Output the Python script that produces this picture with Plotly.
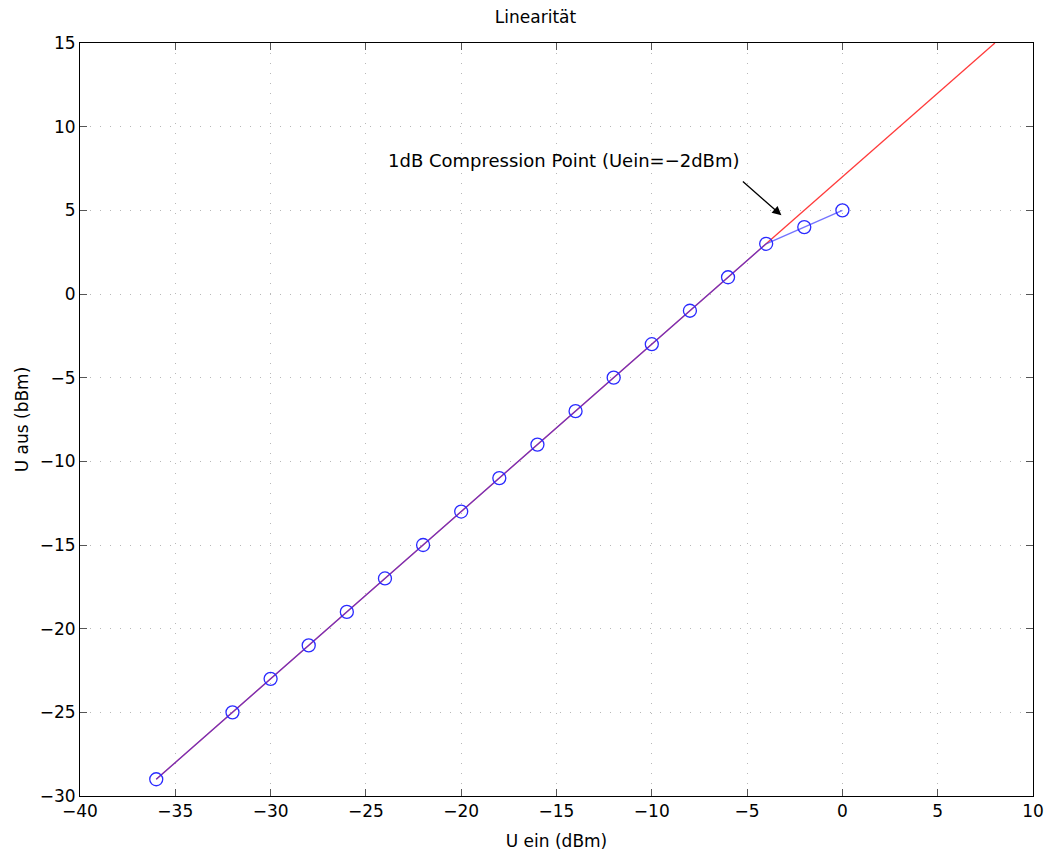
import plotly.graph_objects as go

x_meas = [-36, -32, -30, -28, -26, -24, -22, -20, -18, -16, -14, -12, -10, -8, -6, -4, -2, 0]
y_meas = [-29, -25, -23, -21, -19, -17, -15, -13, -11, -9, -7, -5, -3, -1, 1, 3, 4, 5]
x_ideal = [-36, 8]
y_ideal = [-29, 15]
x_ticks = [-40, -35, -30, -25, -20, -15, -10, -5, 0, 5, 10]
y_ticks = [-30, -25, -20, -15, -10, -5, 0, 5, 10, 15]

def lab(v):
    return str(v).replace("-", "\u2212")

FONT = "DejaVu Sans, Liberation Sans, sans-serif"

fig = go.Figure()
fig.add_trace(go.Scatter(x=x_ideal, y=y_ideal, mode="lines",
                         line=dict(color="#ff3a3a", width=1.3), showlegend=False))
fig.add_trace(go.Scatter(x=x_meas, y=y_meas, mode="lines+markers",
                         line=dict(color="rgba(40,40,255,0.65)", width=1.3),
                         marker=dict(symbol="circle-open", size=13, color="#2a2aff",
                                     line=dict(width=1.3, color="#2a2aff")),
                         showlegend=False))

fig.add_annotation(x=-3.2, y=4.7, ax=-5.3, ay=6.8, xref="x", yref="y", axref="x", ayref="y",
                   showarrow=True, arrowhead=2, arrowsize=1.4, arrowwidth=1.3, arrowcolor="black", text="")
fig.add_annotation(x=-14.6, y=8.0, xref="x", yref="y", showarrow=False,
                   text="1dB Compression Point (Uein=\u22122dBm)",
                   font=dict(size=18, color="black", family=FONT))

axis_common = dict(showline=True, linecolor="black", linewidth=1, mirror="ticks",
                   ticks="inside", ticklen=7, tickcolor="#555555", tickwidth=1,
                   showgrid=True, gridcolor="#b8b8b8", griddash="1px,9px", gridwidth=1,
                   zeroline=False, tickfont=dict(size=17, color="black", family=FONT),
                   automargin=False)

fig.update_xaxes(range=[-40, 10], tickvals=x_ticks, ticktext=[lab(v) for v in x_ticks],
                 title=dict(text="U ein (dBm)", font=dict(size=17, color="black", family=FONT), standoff=14),
                 **axis_common)
fig.update_yaxes(range=[-30, 15], tickvals=y_ticks, ticktext=[lab(v) for v in y_ticks],
                 title=dict(text="U aus (bBm)", font=dict(size=17, color="black", family=FONT), standoff=6),
                 **axis_common)

fig.update_layout(width=1055, height=857,
                  margin=dict(l=72, r=30, t=35, b=69),
                  paper_bgcolor="white", plot_bgcolor="white",
                  font=dict(family=FONT, color="black"),
                  title=dict(text="Linearität", x=0.5, xanchor="center", y=0.99, yanchor="middle",
                             font=dict(size=17, color="black", family=FONT)))

fig.write_html("out.html")
